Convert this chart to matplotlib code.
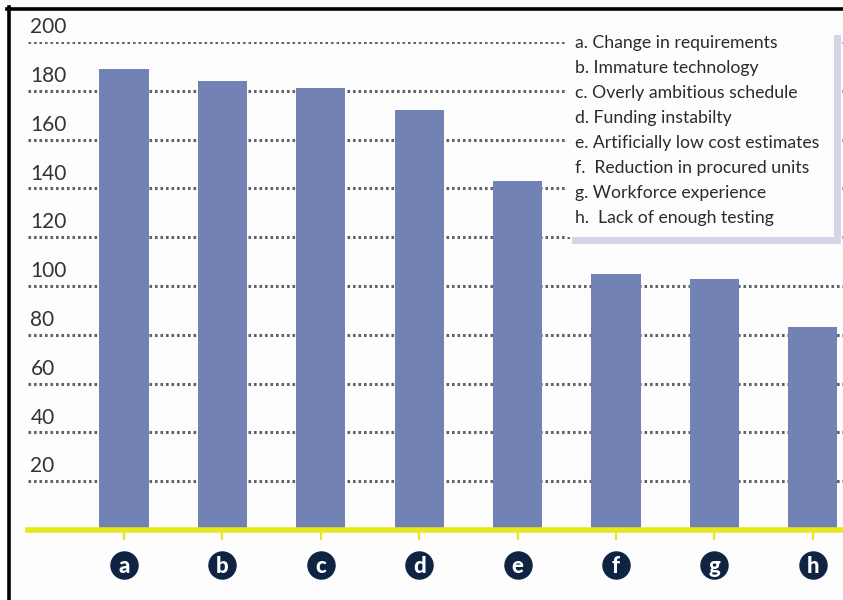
import matplotlib
matplotlib.use("Agg")
import matplotlib.pyplot as plt
from matplotlib.patches import Rectangle
from matplotlib.lines import Line2D

# Data
categories = ["a", "b", "c", "d", "e", "f", "g", "h"]
values = [189, 184, 181, 172, 143, 105, 103, 83]
descriptions = [
    "a. Change in requirements",
    "b. Immature technology",
    "c. Overly ambitious schedule",
    "d. Funding instabilty",
    "e. Artificially low cost estimates",
    "f.  Reduction in procured units",
    "g. Workforce experience",
    "h.  Lack of enough testing",
]
y_ticks = [20, 40, 60, 80, 100, 120, 140, 160, 180, 200]

BAR = "#7282b4"
GRID = "#5f6370"
YELLOW = "#e6e81c"
NAVY = "#0e2442"
TEXT = "#2b2b2b"
FONT = "Lato"

W, H = 843, 600
fig = plt.figure(figsize=(W / 100, H / 100), dpi=100)
fig.patch.set_facecolor("#fdfdfd")

def px(x0, y0, w, h):
    """Pixel box (from top-left) to figure fraction rect."""
    return [x0 / W, 1 - (y0 + h) / H, w / W, h / H]

ax = fig.add_axes(px(28, 42, 815, 488))
ax.set_facecolor("none")
ax.set_xlim(-0.976, 7.307)
ax.set_ylim(0, 200)

# dotted guide lines with their labels sitting just above
for v in y_ticks:
    ax.axhline(v, color=GRID, lw=2.2, linestyle=(0, (0.85, 0.95)), zorder=0)
    ax.text(0.003, v + 2.0, str(v), transform=ax.get_yaxis_transform(),
            ha="left", va="bottom", fontsize=15, color="#333333",
            family=FONT, fontweight="normal", zorder=0)

x = list(range(len(categories)))
ax.bar(x, values, width=0.5, color=BAR, zorder=2)

# yellow baseline and short ticks under each bar
for side in ("top", "right", "left"):
    ax.spines[side].set_visible(False)
ax.spines["bottom"].set_color(YELLOW)
ax.spines["bottom"].set_linewidth(4)
ax.spines["bottom"].set_zorder(3)
ax.set_yticks([])
ax.set_xticks(x)
ax.tick_params(axis="x", colors=YELLOW, length=7, width=1.6, labelbottom=False)

# category badges
ax.scatter(x, [-0.072] * len(x), s=380, color=NAVY,
           transform=ax.get_xaxis_transform(), clip_on=False, zorder=4)
for xi, c in zip(x, categories):
    ax.text(xi, -0.074, c, transform=ax.get_xaxis_transform(),
            ha="center", va="center", color="white", fontsize=16,
            fontweight="black", family=FONT, zorder=5)

# description box with drop shadow
fig.add_artist(Rectangle(px(572, 35, 269, 209)[:2], 269 / W, 209 / H,
                         transform=fig.transFigure, facecolor="#d3d6e4",
                         edgecolor="none", zorder=5))
fig.add_artist(Rectangle(px(565, 28, 269, 209)[:2], 269 / W, 209 / H,
                         transform=fig.transFigure, facecolor="#fdfdfd",
                         edgecolor="none", zorder=6))
for i, d in enumerate(descriptions):
    fig.text(575 / W, 1 - (43 + 25 * i) / H, d, ha="left", va="center",
             fontsize=12.7, color=TEXT, family=FONT, zorder=7)

# frame lines on the left and top
fig.add_artist(Line2D([8.5 / W, 8.5 / W], [0, 1 - 7 / H], color="black",
                      lw=2.6, transform=fig.transFigure, zorder=8))
fig.add_artist(Line2D([7 / W, 1], [1 - 8.5 / H, 1 - 8.5 / H], color="black",
                      lw=2.6, transform=fig.transFigure, zorder=8))

fig.savefig("out.png", dpi=100, facecolor=fig.get_facecolor())
